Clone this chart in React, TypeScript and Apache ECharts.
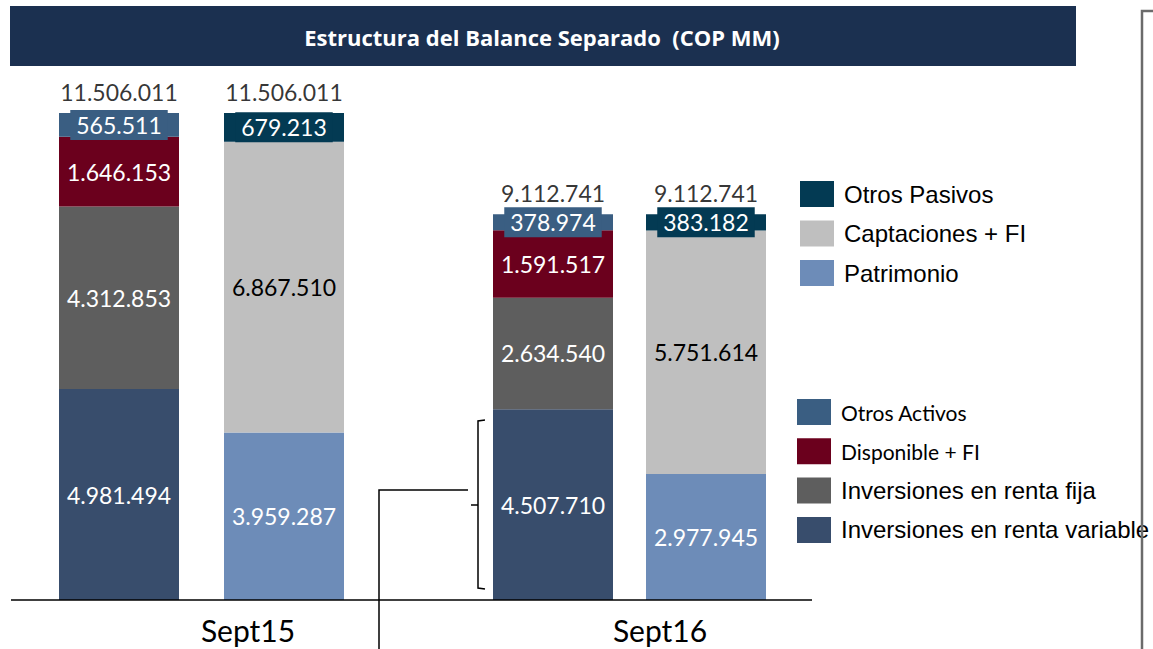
import React, { useEffect, useRef } from 'react';
import * as echarts from 'echarts';

const periods = ['Sept15', 'Sept16'];
const sides = ['Activos', 'Pasivos'];
const rentaVariable = [4981494, 4507710];
const rentaFija = [4312853, 2634540];
const disponible = [1646153, 1591517];
const otrosActivos = [565511, 378974];
const patrimonio = [3959287, 2977945];
const captaciones = [6867510, 5751614];
const otrosPasivos = [679213, 383182];
const totals = [11506011, 9112741];
const yMax = 12000000;

const COLORS: Record<string, string> = {
  'Inversiones en renta variable': '#384d6c',
  'Inversiones en renta fija': '#5e5e5e',
  'Disponible + FI': '#6b001d',
  'Otros Activos': '#3a5e82',
  'Patrimonio': '#6d8cb8',
  'Captaciones + FI': '#bfbfbf',
  'Otros Pasivos': '#033a53',
};

const NUM_FONT = 'Lato, "Open Sans", sans-serif';
const fmt = (v: number) => String(Math.round(v)).replace(/\B(?=(\d{3})+(?!\d))/g, '.');

const assetSeries: [string, number[]][] = [
  ['Inversiones en renta variable', rentaVariable],
  ['Inversiones en renta fija', rentaFija],
  ['Disponible + FI', disponible],
  ['Otros Activos', otrosActivos],
];
const liabSeries: [string, number[]][] = [
  ['Patrimonio', patrimonio],
  ['Captaciones + FI', captaciones],
  ['Otros Pasivos', otrosPasivos],
];

function buildSeries(gi: number) {
  const out: any[] = [];
  const mk = (name: string, vals: number[], side: number) => {
    const color = COLORS[name];
    const boxed = name === 'Otros Activos' || name === 'Otros Pasivos';
    const dark = name !== 'Captaciones + FI';
    const data = side === 0 ? [vals[gi], '-'] : ['-', vals[gi]];
    return {
      type: 'bar',
      name,
      xAxisIndex: gi,
      yAxisIndex: gi,
      stack: 'stk' + gi,
      barWidth: 120,
      data,
      itemStyle: { color },
      label: {
        show: true,
        position: 'inside',
        formatter: (p: any) => fmt(p.value),
        color: dark ? '#ffffff' : '#000000',
        fontFamily: NUM_FONT,
        fontSize: 23,
        backgroundColor: boxed ? color : 'transparent',
        padding: boxed ? [4, 6, 3, 6] : 0,
      },
      emphasis: { disabled: true },
    };
  };
  assetSeries.forEach(([n, v]) => out.push(mk(n, v, 0)));
  liabSeries.forEach(([n, v]) => out.push(mk(n, v, 1)));
  out.push({
    type: 'scatter',
    name: 'Total',
    xAxisIndex: gi,
    yAxisIndex: gi,
    symbolSize: 1,
    itemStyle: { color: 'rgba(0,0,0,0)' },
    data: [totals[gi], totals[gi]],
    z: 10,
    label: {
      show: true,
      position: 'top',
      distance: 9,
      formatter: (p: any) => fmt(p.value),
      color: '#000000',
      fontFamily: NUM_FONT,
      fontSize: 23,
    },
    emphasis: { disabled: true },
  });
  return out;
}

const grids = [
  { left: 36.5, width: 330, top: 92, bottom: 49 },
  { left: 476.5, width: 306, top: 92, bottom: 49 },
];

export default function App() {
  const ref = useRef<HTMLDivElement>(null);
  useEffect(() => {
    document.body.style.margin = '0';
    if (!ref.current) return;
    const chart = echarts.init(ref.current, undefined, { renderer: 'svg' });
    const legendText = { color: '#000', fontFamily: '"Liberation Sans", Arial, sans-serif', fontSize: 24, lineHeight: 26, padding: [0, 0, 0, 5] };
    const smallText = { color: '#000', fontFamily: NUM_FONT, fontSize: 21, lineHeight: 26, padding: [0, 0, 0, 5] };
    chart.setOption({
      animation: false,
      backgroundColor: '#ffffff',
      grid: grids,
      xAxis: grids.map((_, i) => ({
        type: 'category',
        gridIndex: i,
        data: sides,
        show: false,
      })),
      yAxis: grids.map((_, i) => ({
        type: 'value',
        gridIndex: i,
        min: 0,
        max: yMax,
        show: false,
      })),
      legend: [
        {
          orient: 'vertical',
          left: 800,
          top: 181,
          padding: 0,
          itemWidth: 34,
          itemHeight: 26,
          itemGap: 13.5,
          icon: 'rect',
          selectedMode: false,
          textStyle: legendText,
          data: ['Otros Pasivos', 'Captaciones + FI', 'Patrimonio'],
        },
        {
          orient: 'vertical',
          left: 797,
          top: 399,
          padding: 0,
          itemWidth: 34,
          itemHeight: 26,
          itemGap: 13.3,
          icon: 'rect',
          selectedMode: false,
          textStyle: legendText,
          data: [
            { name: 'Otros Activos', textStyle: smallText },
            { name: 'Disponible + FI', textStyle: smallText },
            'Inversiones en renta fija',
            'Inversiones en renta variable',
          ],
        },
      ],
      series: [...buildSeries(0), ...buildSeries(1)],
      graphic: [
        { type: 'rect', shape: { x: 10, y: 6, width: 1066, height: 60 }, style: { fill: '#1b3050' }, z: 1 },
        {
          type: 'text', x: 542, y: 37, z: 2,
          style: {
            text: 'Estructura del Balance Separado  (COP MM)',
            fill: '#ffffff', font: 'bold 22px "Open Sans", Lato, sans-serif',
            textAlign: 'center', textVerticalAlign: 'middle',
          },
        },
        { type: 'line', shape: { x1: 11, y1: 600, x2: 812, y2: 600 }, style: { stroke: '#000', lineWidth: 1.5 }, z: 50 },
        { type: 'polyline', shape: { points: [[485, 420], [478, 421], [478, 588], [485, 589]] }, style: { stroke: '#000', lineWidth: 1.5, fill: 'none' }, z: 50 },
        { type: 'line', shape: { x1: 478, y1: 505, x2: 471, y2: 505 }, style: { stroke: '#000', lineWidth: 1.5 }, z: 50 },
        { type: 'polyline', shape: { points: [[468, 490], [379, 490], [379, 649]] }, style: { stroke: '#000', lineWidth: 1.5, fill: 'none' }, z: 50 },
        { type: 'polyline', shape: { points: [[1153, 11], [1142, 11], [1142, 649]] }, style: { stroke: '#6b6b6b', lineWidth: 2.5, fill: 'none' }, z: 50 },
        {
          type: 'text', x: 248, y: 630, z: 50,
          style: { text: periods[0], fill: '#000', font: '30px Lato, sans-serif', textAlign: 'center', textVerticalAlign: 'middle' },
        },
        {
          type: 'text', x: 660, y: 630, z: 50,
          style: { text: periods[1], fill: '#000', font: '30px Lato, sans-serif', textAlign: 'center', textVerticalAlign: 'middle' },
        },
      ],
    });
    return () => chart.dispose();
  }, []);
  return <div ref={ref} style={{ width: 1153, height: 649 }} />;
}
